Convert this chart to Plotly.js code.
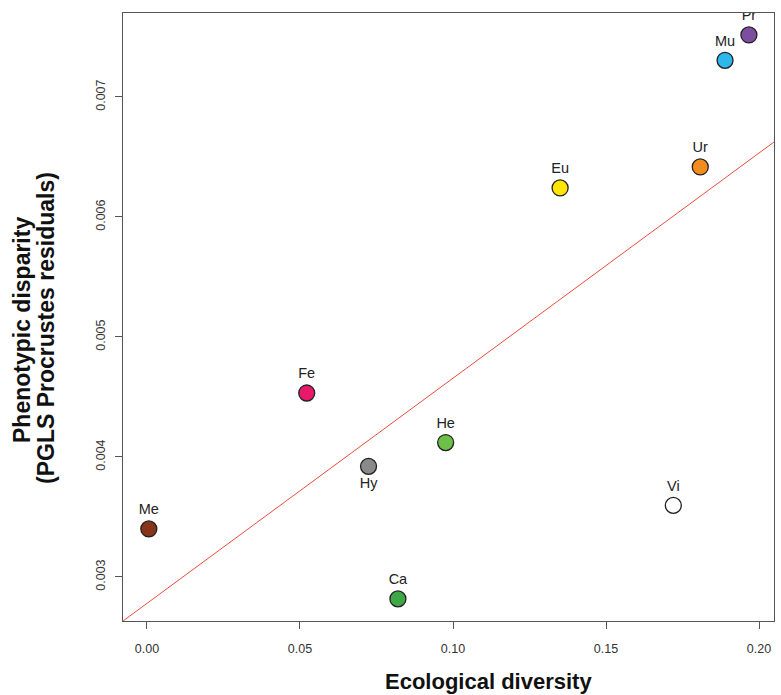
<!DOCTYPE html>
<html>
<head>
<meta charset="utf-8">
<script src="https://cdn.plot.ly/plotly-3.0.1.min.js"></script>
<style>
  html, body { margin: 0; padding: 0; background: #ffffff; }
  #chart { width: 781px; height: 695px; }
</style>
</head>
<body>
<div id="chart"></div>
<script>
// ---- Data ----
var groups      = ['Me', 'Fe', 'Hy', 'He', 'Ca', 'Vi', 'Eu', 'Ur', 'Mu', 'Pr'];
var ecoDiversity = [0.0006, 0.0522, 0.0724, 0.0976, 0.0820, 0.1720, 0.1350, 0.1808, 0.1889, 0.1967];
var phenoDisparity = [0.00340, 0.004533, 0.003922, 0.00412, 0.002817, 0.003597, 0.006242, 0.006417, 0.007306, 0.007517];
var groupColors = ['#86341a', '#e8196a', '#8a8a8a', '#6cbf47', '#3da845', '#ffffff', '#ffe600', '#f28c1e', '#2db8ec', '#7b4ea0'];
var labelsBelow = ['Hy'];

// regression line (PGLS fit)
var fitIntercept = 0.002780;
var fitSlope = 0.018765;

var xTicks = [0.00, 0.05, 0.10, 0.15, 0.20];
var xTickText = ['0.00', '0.05', '0.10', '0.15', '0.20'];
var yTicks = [0.003, 0.004, 0.005, 0.006, 0.007];
var yTickText = ['0.003', '0.004', '0.005', '0.006', '0.007'];

var xRange = [-0.00784, 0.2049];
var yRange = [0.002633, 0.0077];

// ---- Traces ----
var fitTrace = {
  x: xRange,
  y: xRange.map(function (v) { return fitIntercept + fitSlope * v; }),
  mode: 'lines',
  type: 'scatter',
  line: { color: '#ee4b3b', width: 1 },
  hoverinfo: 'skip',
  showlegend: false
};

var pointTrace = {
  x: ecoDiversity,
  y: phenoDisparity,
  text: groups,
  mode: 'markers+text',
  type: 'scatter',
  textposition: groups.map(function (g) { return labelsBelow.indexOf(g) >= 0 ? 'bottom center' : 'top center'; }),
  textfont: { family: 'Liberation Sans, Arial, sans-serif', size: 14.5, color: '#222222' },
  marker: {
    size: 16,
    color: groupColors,
    line: { color: '#222222', width: 1.3 }
  },
  cliponaxis: true,
  showlegend: false
};

var axisFont = { family: 'Liberation Sans, Arial, sans-serif', size: 12.5, color: '#333333' };

var layout = {
  width: 781,
  height: 695,
  margin: { l: 123, r: 7, t: 13, b: 74 },
  paper_bgcolor: '#ffffff',
  plot_bgcolor: '#ffffff',
  showlegend: false,
  xaxis: {
    range: xRange,
    tickmode: 'array',
    tickvals: xTicks,
    ticktext: xTickText,
    ticks: 'outside',
    ticklen: 7,
    tickwidth: 1,
    tickcolor: '#555555',
    tickfont: axisFont,
    ticklabelstandoff: 9,
    showline: true,
    linecolor: '#555555',
    linewidth: 1.3,
    mirror: true,
    showgrid: false,
    zeroline: false
  },
  yaxis: {
    range: yRange,
    tickmode: 'array',
    tickvals: yTicks,
    ticktext: yTickText,
    ticks: 'outside',
    ticklen: 7,
    tickwidth: 1,
    tickcolor: '#555555',
    tickfont: axisFont,
    tickangle: -90,
    ticklabelstandoff: 5,
    showline: true,
    linecolor: '#555555',
    linewidth: 1.3,
    mirror: true,
    showgrid: false,
    zeroline: false
  },
  annotations: [
    {
      text: '<b>Ecological diversity</b>',
      xref: 'paper', yref: 'paper',
      x: (488 - 123) / 651, y: (621 - 681) / 608,
      xanchor: 'center', yanchor: 'middle',
      showarrow: false,
      font: { family: 'Liberation Sans, Arial, sans-serif', size: 22, color: '#111111' }
    },
    {
      text: '<b>Phenotypic disparity</b>',
      xref: 'paper', yref: 'paper',
      x: (22 - 123) / 651, y: (621 - 330) / 608,
      xanchor: 'center', yanchor: 'middle',
      textangle: -90,
      showarrow: false,
      font: { family: 'Liberation Sans, Arial, sans-serif', size: 23, color: '#111111' }
    },
    {
      text: '<b>(PGLS Procrustes residuals)</b>',
      xref: 'paper', yref: 'paper',
      x: (46 - 123) / 651, y: (621 - 328) / 608,
      xanchor: 'center', yanchor: 'middle',
      textangle: -90,
      showarrow: false,
      font: { family: 'Liberation Sans, Arial, sans-serif', size: 23, color: '#111111' }
    }
  ]
};

Plotly.newPlot('chart', [fitTrace, pointTrace], layout, { staticPlot: true, displayModeBar: false });
</script>
</body>
</html>
